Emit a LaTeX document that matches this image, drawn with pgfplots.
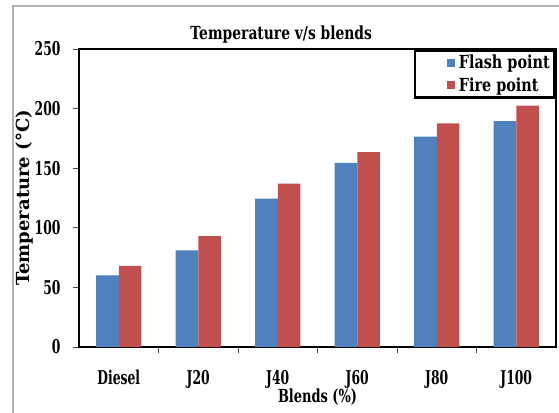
\documentclass[border=0pt]{standalone}
\usepackage{pgfplots}
\pgfplotsset{compat=1.18}
\usepackage{fontspec}
\setmainfont{DejaVu Serif}[FakeStretch=0.72]
\newfontfamily\tickfont{DejaVu Serif}[FakeStretch=0.65]
\newfontfamily\titlefont{DejaVu Serif}[FakeStretch=0.77]
\newfontfamily\legfont{DejaVu Serif}[FakeStretch=0.8]
\newfontfamily\ylfont{DejaVu Serif}
\definecolor{xblue}{HTML}{4F81BD}
\definecolor{xred}{HTML}{C0504D}
\begin{document}
\begin{tikzpicture}
\draw[gray!60, line width=1.5pt] (13pt,-10pt) -- (13pt,406pt) -- (570pt,406pt);
\begin{axis}[
  at={(79pt,65pt)}, anchor=south west,
  scale only axis, width=477pt, height=298pt,
  xmin=-0.5, xmax=5.5, ymin=0, ymax=250,
  ytick={0,50,...,250},
  xtick={0,...,5}, xticklabels={Diesel,J20,J40,J60,J80,J100},
  minor xtick={0.5,1.5,...,4.5},
  major x tick style={draw=none},
  tick align=outside,
  xtick pos=bottom, ytick pos=left,
  major tick length=6pt, minor tick length=6pt,
  tick style={gray!60!black, line width=0.8pt},
  axis line style={black, line width=2.6pt},
  /pgf/number format/assume math mode=true,
  ticklabel style={font=\tickfont\bfseries\fontsize{19}{21}\selectfont},
  yticklabel style={xshift=-9pt},
  xticklabel style={yshift=-14pt},
  title={Temperature v/s blends},
  title style={at={(0.424,1)}, anchor=base, yshift=3pt, font=\titlefont\bfseries\fontsize{18}{20}\selectfont},
  xlabel={Blends (\%)},
  xlabel style={font=\bfseries\fontsize{18}{20}\selectfont, at={(0.5,0)}, anchor=base, yshift=-55pt},
  ylabel={Temperature (°C)},
  ylabel style={font=\ylfont\bfseries\fontsize{18}{20}\selectfont, at={(0,0.5)}, anchor=center, yshift=54pt},
  legend style={at={(1,1)}, anchor=north east, draw=black, line width=2.6pt,
    font=\legfont\bfseries\fontsize{18}{20}\selectfont, inner xsep=3pt, inner ysep=3pt,
    row sep=3pt, legend cell align=left},
  legend image code/.code={\path (0pt,0pt); \fill[#1] (29pt,-4pt) rectangle (37pt,4pt);},
]
\addplot[ybar, bar width=0.284, bar shift=-0.142, fill=xblue, draw=none]
  coordinates {(0,60) (1,81) (2,124.5) (3,154.5) (4,176.5) (5,189.5)};
\addplot[ybar, bar width=0.284, bar shift=0.142, fill=xred, draw=none]
  coordinates {(0,68) (1,93) (2,137) (3,163.5) (4,187.5) (5,202.5)};
\legend{\hspace*{2pt}Flash point, \hspace*{2pt}Fire point}
\end{axis}
\pgfresetboundingbox
\path[use as bounding box] (0pt,0pt) rectangle (559pt,412pt);
\end{tikzpicture}
\end{document}
